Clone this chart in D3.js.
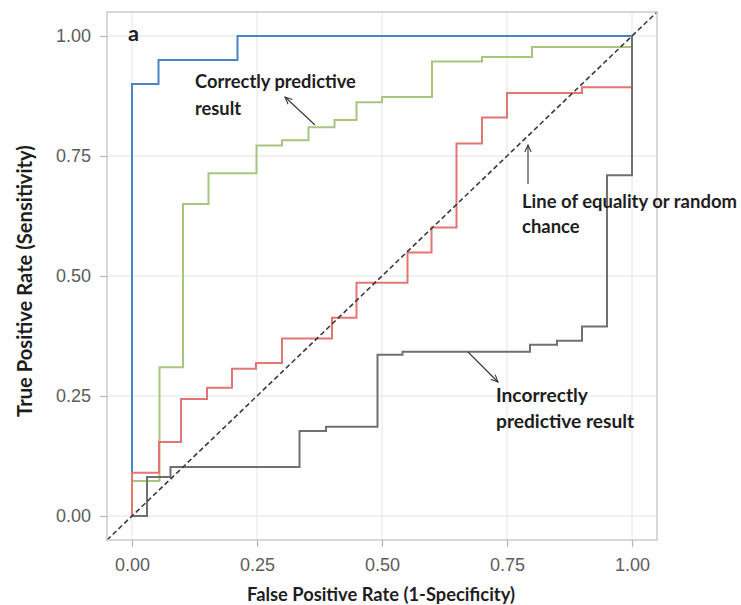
<!DOCTYPE html>
<html>
<head>
<meta charset="utf-8">
<script src="https://cdn.jsdelivr.net/npm/d3@7"></script>
<style>
  html, body { margin: 0; padding: 0; background: #fff; }
  svg { display: block; }
</style>
</head>
<body>
<div id="chart"></div>
<script>
// ROC step curves (false positive rate / true positive rate)
const blueFpr = [0, 0, 0.053, 0.211, 1];
const blueTpr = [0, 0.90, 0.95, 1.00, 1.00];

const greenFpr = [0, 0, 0.055, 0.102, 0.153, 0.249, 0.300, 0.353, 0.405, 0.449, 0.500, 0.600, 0.700, 0.800, 1];
const greenTpr = [0, 0.073, 0.310, 0.650, 0.714, 0.772, 0.783, 0.810, 0.825, 0.862, 0.873, 0.947, 0.956, 0.977, 1];

const redFpr = [0, 0, 0.054, 0.098, 0.150, 0.200, 0.248, 0.300, 0.400, 0.449, 0.551, 0.599, 0.649, 0.700, 0.750, 0.900, 1];
const redTpr = [0, 0.090, 0.154, 0.244, 0.267, 0.307, 0.319, 0.370, 0.413, 0.486, 0.549, 0.601, 0.776, 0.830, 0.881, 0.893, 1];

const greyFpr = [0, 0.030, 0.077, 0.335, 0.388, 0.491, 0.541, 0.796, 0.850, 0.900, 0.950, 1];
const greyTpr = [0, 0.081, 0.102, 0.177, 0.186, 0.336, 0.342, 0.357, 0.365, 0.395, 0.710, 1];

const tickValues = [0, 0.25, 0.5, 0.75, 1];

(function () {
    const width = 741, height = 605;
    const panel = { left: 107, right: 657, top: 12, bottom: 540 };

    const series = [
        { fpr: blueFpr, tpr: blueTpr, color: '#4a84c4' },
        { fpr: greenFpr, tpr: greenTpr, color: '#a8c47f' },
        { fpr: redFpr, tpr: redTpr, color: '#e37575' },
        { fpr: greyFpr, tpr: greyTpr, color: '#707070' }
    ];

    const svg = d3.select('#chart').append('svg')
        .attr('width', width)
        .attr('height', height);

    const x = d3.scaleLinear().domain([-0.05, 1.05]).range([panel.left, panel.right]);
    const y = d3.scaleLinear().domain([-0.05, 1.05]).range([panel.bottom, panel.top]);

    // Grid
    const grid = svg.append('g');
    grid.selectAll('line.v').data(tickValues).join('line')
        .attr('x1', d => x(d)).attr('x2', d => x(d))
        .attr('y1', panel.top).attr('y2', panel.bottom)
        .attr('stroke', '#e4e4e4').attr('stroke-width', 1);
    grid.selectAll('line.h').data(tickValues).join('line')
        .attr('y1', d => y(d)).attr('y2', d => y(d))
        .attr('x1', panel.left).attr('x2', panel.right)
        .attr('stroke', '#e4e4e4').attr('stroke-width', 1);

    // Axes
    const fmt = d3.format('.2f');
    const xAxis = svg.append('g')
        .attr('transform', `translate(0,${panel.bottom})`)
        .call(d3.axisBottom(x).tickValues(tickValues).tickFormat(fmt)
            .tickSize(7).tickPadding(11));
    const yAxis = svg.append('g')
        .attr('transform', `translate(${panel.left},0)`)
        .call(d3.axisLeft(y).tickValues(tickValues).tickFormat(fmt)
            .tickSize(7).tickPadding(9));
    [xAxis, yAxis].forEach(a => {
        a.select('.domain').remove();
        a.selectAll('.tick line').attr('stroke', '#b3b3b3').attr('stroke-width', 1.2);
        a.selectAll('.tick text')
            .attr('fill', '#5c5c5c')
            .attr('font-family', '"Liberation Sans", Arial, sans-serif')
            .attr('font-size', 18);
    });

    // Curves (ggplot geom_step, "hv" direction)
    const line = d3.line()
        .x(d => x(d[0]))
        .y(d => y(d[1]))
        .curve(d3.curveStepAfter);

    svg.append('g').selectAll('path')
        .data(series)
        .join('path')
        .attr('d', s => line(d3.zip(s.fpr, s.tpr)))
        .attr('fill', 'none')
        .attr('stroke', s => s.color)
        .attr('stroke-width', 2);

    // Line of equality across the whole panel
    svg.append('line')
        .attr('x1', x(-0.05)).attr('y1', y(-0.05))
        .attr('x2', x(1.05)).attr('y2', y(1.05))
        .attr('stroke', '#3a3a3a')
        .attr('stroke-width', 1.6)
        .attr('stroke-dasharray', '5,3');

    // Panel border
    svg.append('rect')
        .attr('x', panel.left).attr('y', panel.top)
        .attr('width', panel.right - panel.left)
        .attr('height', panel.bottom - panel.top)
        .attr('fill', 'none')
        .attr('stroke', '#c4c4c4')
        .attr('stroke-width', 1.3);

    // Text helpers — scale font so the first line spans the measured width
    const labelFont = 'Lato, "Open Sans", sans-serif';
    function addText(lines, x0, y0, targetWidth, lineGap, opts = {}) {
        const t = svg.append('text')
            .attr('font-family', labelFont)
            .attr('font-weight', 700)
            .attr('font-size', 16)
            .attr('fill', opts.fill || '#1e1e1e')
            .attr('x', x0).attr('y', y0)
            .attr('text-anchor', opts.anchor || 'start');
        if (opts.rotate) t.attr('transform', `rotate(-90,${x0},${y0})`);
        lines.forEach((s, i) => {
            t.append('tspan').attr('x', x0).attr('y', y0 + i * lineGap).text(s);
        });
        const w = t.select('tspan').node().getComputedTextLength();
        t.attr('font-size', 16 * targetWidth / w);
        return t;
    }

    // Axis titles
    addText(['False Positive Rate (1-Specificity)'], 381, 601, 268, 0, { anchor: 'middle' });
    addText(['True Positive Rate (Sensitivity)'], 32, 281, 272, 0, { anchor: 'middle', rotate: true });

    // Panel tag
    addText(['a'], 128, 41, 11, 0);

    // Annotations
    addText(['Correctly predictive', 'result'], 195, 88, 161, 27);
    addText(['Line of equality or random', 'chance'], 522, 208, 215, 25);
    addText(['Incorrectly', 'predictive result'], 496, 402, 92, 26);

    // Arrows
    const defs = svg.append('defs');
    defs.append('marker')
        .attr('id', 'arrow')
        .attr('viewBox', '0 -5 10 10')
        .attr('refX', 9).attr('refY', 0)
        .attr('markerWidth', 8).attr('markerHeight', 8)
        .attr('markerUnits', 'userSpaceOnUse')
        .attr('orient', 'auto')
        .append('path')
        .attr('d', 'M0,-4L9,0L0,4')
        .attr('fill', 'none')
        .attr('stroke', '#333')
        .attr('stroke-width', 1.3);

    const arrows = [
        [315, 125, 285, 97],
        [528, 184, 528, 145],
        [468, 352, 498, 382]
    ];
    svg.append('g').selectAll('line')
        .data(arrows)
        .join('line')
        .attr('x1', d => d[0]).attr('y1', d => d[1])
        .attr('x2', d => d[2]).attr('y2', d => d[3])
        .attr('stroke', '#333')
        .attr('stroke-width', 1.1)
        .attr('marker-end', 'url(#arrow)');
})();
</script>
</body>
</html>
